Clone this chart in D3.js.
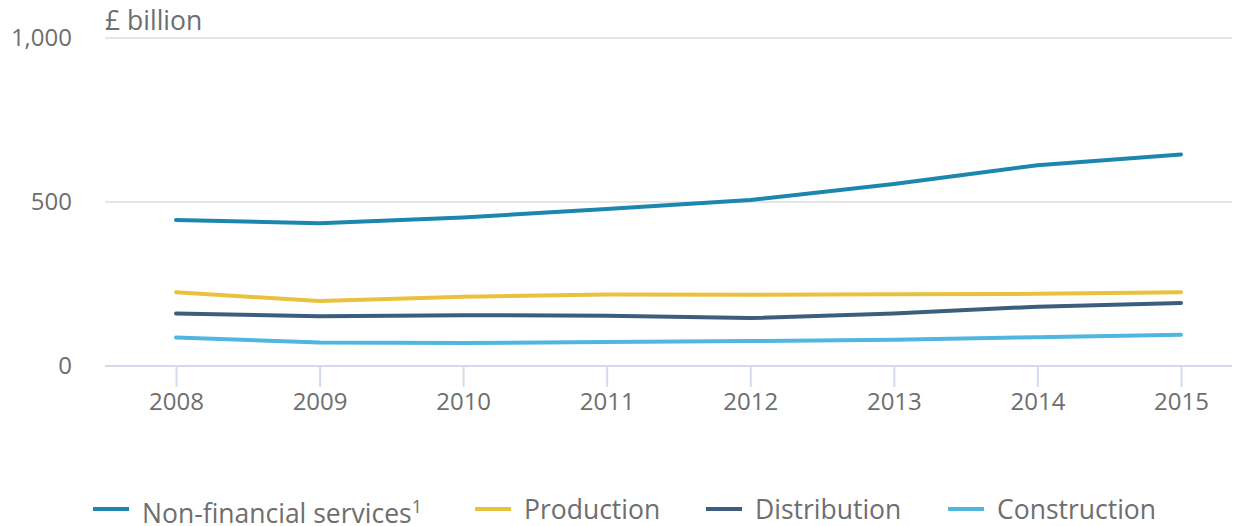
<!DOCTYPE html>
<html>
<head>
<meta charset="utf-8">
<script src="https://cdn.jsdelivr.net/npm/d3@7"></script>
<style>
  html, body { margin: 0; padding: 0; background: #fff; }
  svg { display: block; font-family: "Open Sans", "Noto Sans", sans-serif; }
</style>
</head>
<body>
<svg id="chart" width="1247" height="526"></svg>
<script>
// Turnover by industry group, £ billion
const years = [2008, 2009, 2010, 2011, 2012, 2013, 2014, 2015];
const nonFinancialServices = [445, 435, 453, 479, 506, 555, 612, 645];
const production = [225, 198, 211, 218, 217, 219, 220, 225];
const distribution = [160, 152, 155, 153, 146, 160, 181, 192];
const construction = [87, 72, 70, 73, 76, 80, 88, 95];
const yTicks = [0, 500, 1000];
const unitLabel = "£ billion";

const series = [
  { name: "Non-financial services", sup: "1", values: nonFinancialServices, color: "#1d86ad" },
  { name: "Production", values: production, color: "#e8c23c" },
  { name: "Distribution", values: distribution, color: "#3d5d7e" },
  { name: "Construction", values: construction, color: "#4fb6df" }
];

const textColor = "#6e6e6e";
const svg = d3.select("#chart");
const x = d3.scalePoint().domain(years).range([176, 1181]);
const y = d3.scaleLinear().domain([0, 1000]).range([366, 38]);
const gridLeft = 105, gridRight = 1232;

// horizontal gridlines
svg.append("g").selectAll("line")
  .data(yTicks.filter(d => d > 0))
  .join("line")
  .attr("x1", gridLeft).attr("x2", gridRight)
  .attr("y1", d => y(d)).attr("y2", d => y(d))
  .attr("stroke", "#e6e6e6").attr("stroke-width", 2);

// y tick labels
svg.append("g").selectAll("text")
  .data(yTicks)
  .join("text")
  .attr("x", 72).attr("y", d => y(d))
  .attr("dy", "0.35em")
  .attr("text-anchor", "end")
  .attr("font-size", 24)
  .attr("fill", textColor)
  .text(d => d3.format(",")(d));

// unit label
svg.append("text")
  .attr("x", gridLeft).attr("y", 30)
  .attr("font-size", 26.5).attr("fill", textColor)
  .text(unitLabel);

// x axis
const xAxis = d3.axisBottom(x).tickSize(21).tickPadding(6).tickFormat(d3.format("d"));
const gx = svg.append("g").attr("transform", `translate(0,${y(0)})`).call(xAxis);
gx.select(".domain").remove();
gx.selectAll(".tick line").attr("stroke", "#d3dbea").attr("stroke-width", 2);
gx.selectAll(".tick text").attr("font-size", 24).attr("fill", textColor)
  .attr("font-family", "'Open Sans', sans-serif");
svg.append("line")
  .attr("x1", gridLeft).attr("x2", gridRight)
  .attr("y1", y(0)).attr("y2", y(0))
  .attr("stroke", "#d3dbea").attr("stroke-width", 2);

// series lines
const line = d3.line().x((d, i) => x(years[i])).y(d => y(d));
svg.append("g").selectAll("path")
  .data(series)
  .join("path")
  .attr("d", d => line(d.values))
  .attr("fill", "none")
  .attr("stroke", d => d.color)
  .attr("stroke-width", 4)
  .attr("stroke-linecap", "round")
  .attr("stroke-linejoin", "round");

// legend
const legendX = [93, 475, 706, 948];
const lg = svg.append("g").selectAll("g")
  .data(series)
  .join("g")
  .attr("transform", (d, i) => `translate(${legendX[i]},509)`);
lg.append("line")
  .attr("x1", 0).attr("x2", 36)
  .attr("y1", 0).attr("y2", 0)
  .attr("stroke", d => d.color).attr("stroke-width", 4);
const lt = lg.append("text")
  .attr("x", 49).attr("y", d => d.sup ? 5 : 1).attr("dy", "0.35em")
  .attr("font-size", 26.5).attr("fill", textColor)
  .text(d => d.name);
lt.filter(d => d.sup).append("tspan")
  .attr("dy", "-0.55em").attr("font-size", 18)
  .text(d => d.sup);
</script>
</body>
</html>
